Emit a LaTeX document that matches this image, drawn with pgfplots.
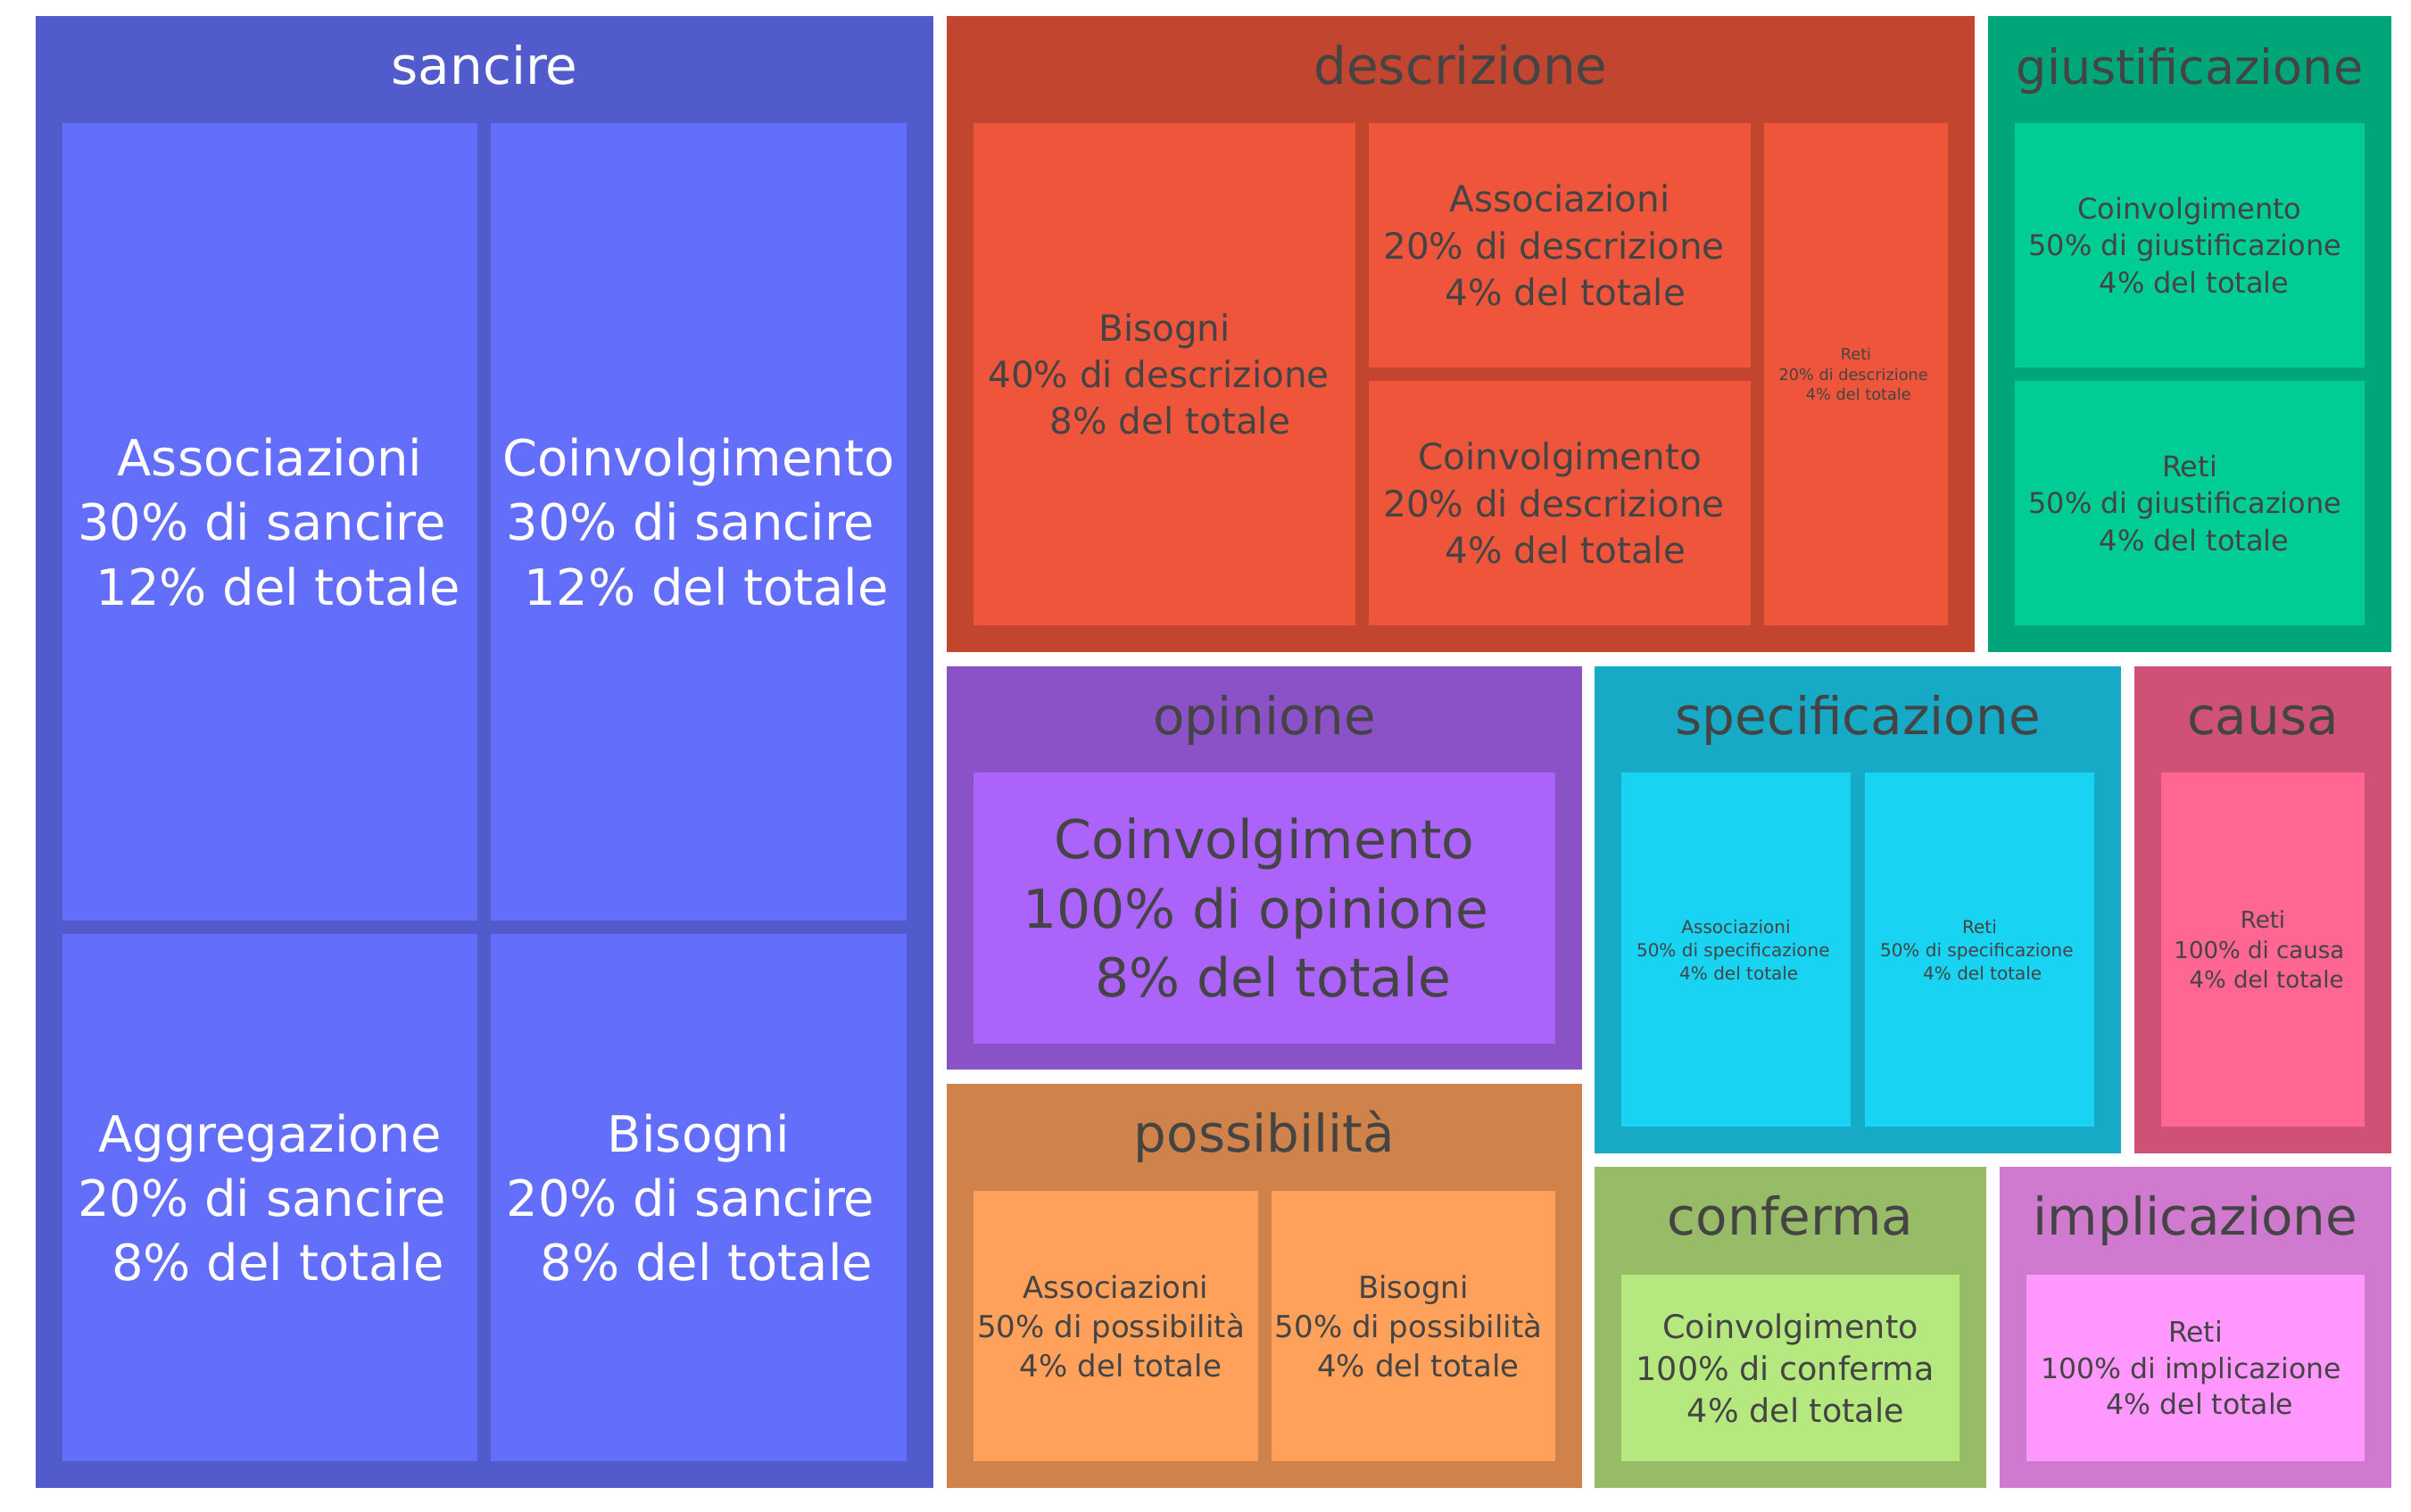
\documentclass[border=0pt]{standalone}
\usepackage{fontspec}
\setmainfont{DejaVu Sans}
\usepackage{pgfplots}
\pgfplotsset{compat=1.18}
\definecolor{sancireO}{HTML}{515BCC}\definecolor{sancireI}{HTML}{636EFA}
\definecolor{descO}{HTML}{C1452F}\definecolor{descI}{HTML}{EF553B}
\definecolor{giusO}{HTML}{00A57A}\definecolor{giusI}{HTML}{00CC96}
\definecolor{opinO}{HTML}{8B52C8}\definecolor{opinI}{HTML}{AB63FA}
\definecolor{possO}{HTML}{CF834A}\definecolor{possI}{HTML}{FFA15A}
\definecolor{specO}{HTML}{16AAC6}\definecolor{specI}{HTML}{19D3F3}
\definecolor{causaO}{HTML}{CF5276}\definecolor{causaI}{HTML}{FF6692}
\definecolor{confO}{HTML}{97BB67}\definecolor{confI}{HTML}{B6E880}
\definecolor{implO}{HTML}{CF7ACE}\definecolor{implI}{HTML}{FF97FF}
\definecolor{txt}{HTML}{444444}
% rectangle: x1, y1, x2, y2 (pixels, y from top), colour
\newcommand{\rect}[5]{\addplot[fill=#5, draw=none] coordinates {(#1,#2) (#3,#2) (#3,#4) (#1,#4)} -- cycle;}
\newcommand{\gap}{\hbox to 0.32em{}}
% font size in pixels (1px = 0.3pt)
\newcommand{\fpx}[1]{\fontsize{\fpeval{#1*0.3}pt}{\fpeval{#1*0.3*1.29}pt}\selectfont}
\begin{document}
\begin{tikzpicture}
\begin{axis}[width=810.6pt, height=508.5pt, scale only axis,
  xmin=0, xmax=2702, ymin=0, ymax=1695, y dir=reverse,
  hide axis, clip=false]
\rect{0}{0}{2702}{1695}{white}
% outer boxes
\rect{40}{18}{1046}{1668}{sancireO}
\rect{1061}{18}{2213}{731}{descO}
\rect{2228}{18}{2680}{731}{giusO}
\rect{1061}{747}{1773}{1199}{opinO}
\rect{1061}{1215}{1773}{1668}{possO}
\rect{1787}{747}{2377}{1293}{specO}
\rect{2392}{747}{2680}{1293}{causaO}
\rect{1787}{1308}{2226}{1668}{confO}
\rect{2241}{1308}{2680}{1668}{implO}
% inner boxes
\rect{70}{138}{535}{1032}{sancireI}
\rect{550}{138}{1016}{1032}{sancireI}
\rect{70}{1047}{535}{1638}{sancireI}
\rect{550}{1047}{1016}{1638}{sancireI}
\rect{1091}{138}{1519}{701}{descI}
\rect{1534}{138}{1962}{412}{descI}
\rect{1534}{427}{1962}{701}{descI}
\rect{1977}{138}{2183}{701}{descI}
\rect{2258}{138}{2650}{412}{giusI}
\rect{2258}{427}{2650}{701}{giusI}
\rect{1091}{866}{1743}{1170}{opinI}
\rect{1091}{1335}{1410}{1638}{possI}
\rect{1425}{1335}{1743}{1638}{possI}
\rect{1817}{866}{2074}{1263}{specI}
\rect{2090}{866}{2347}{1263}{specI}
\rect{2422}{866}{2650}{1263}{causaI}
\rect{1817}{1429}{2196}{1638}{confI}
\rect{2271}{1429}{2650}{1638}{implI}
% headers
\node[anchor=base, text=white, font=\fpx{58}] at (axis cs:543,94) {sancire};
\node[anchor=base, text=txt, font=\fpx{58}] at (axis cs:1637,94) {descrizione};
\node[anchor=base, text=txt, font=\fpx{54}] at (axis cs:2454,94) {giustificazione};
\node[anchor=base, text=txt, font=\fpx{58}] at (axis cs:1417,823) {opinione};
\node[anchor=base, text=txt, font=\fpx{58}] at (axis cs:2082,823) {specificazione};
\node[anchor=base, text=txt, font=\fpx{58}] at (axis cs:2536,823) {causa};
\node[anchor=base, text=txt, font=\fpx{58}] at (axis cs:1417,1291) {possibilità};
\node[anchor=base, text=txt, font=\fpx{58}] at (axis cs:2006.5,1384) {conferma};
\node[anchor=base, text=txt, font=\fpx{58}] at (axis cs:2460.5,1384) {implicazione};
% leaf labels
\node[align=center, text=white, font=\fpx{56}] at (axis cs:302.5,585) {Associazioni\\30\% di sancire\gap\\\gap 12\% del totale};
\node[align=center, text=white, font=\fpx{56}] at (axis cs:783,585) {Coinvolgimento\\30\% di sancire\gap\\\gap 12\% del totale};
\node[align=center, text=white, font=\fpx{56}] at (axis cs:302.5,1342.5) {Aggregazione\\20\% di sancire\gap\\\gap 8\% del totale};
\node[align=center, text=white, font=\fpx{56}] at (axis cs:783,1342.5) {Bisogni\\20\% di sancire\gap\\\gap 8\% del totale};
\node[align=center, text=txt, font=\fpx{40.5}] at (axis cs:1305,419.5) {Bisogni\\40\% di descrizione\gap\\\gap 8\% del totale};
\node[align=center, text=txt, font=\fpx{40.5}] at (axis cs:1748,275) {Associazioni\\20\% di descrizione\gap\\\gap 4\% del totale};
\node[align=center, text=txt, font=\fpx{40.5}] at (axis cs:1748,564) {Coinvolgimento\\20\% di descrizione\gap\\\gap 4\% del totale};
\node[align=center, text=txt, font=\fpx{17.7}] at (axis cs:2080,419.5) {Reti\\20\% di descrizione\gap\\\gap 4\% del totale};
\node[align=center, text=txt, font=\fpx{32}] at (axis cs:2454,275) {Coinvolgimento\\50\% di giustificazione\gap\\\gap 4\% del totale};
\node[align=center, text=txt, font=\fpx{32}] at (axis cs:2454,564) {Reti\\50\% di giustificazione\gap\\\gap 4\% del totale};
\node[align=center, text=txt, font=\fpx{60}] at (axis cs:1417,1018) {Coinvolgimento\\100\% di opinione\gap\\\gap 8\% del totale};
\node[align=center, text=txt, font=\fpx{34}] at (axis cs:1250.5,1486.5) {Associazioni\\50\% di possibilità\gap\\\gap 4\% del totale};
\node[align=center, text=txt, font=\fpx{34}] at (axis cs:1584,1486.5) {Bisogni\\50\% di possibilità\gap\\\gap 4\% del totale};
\node[align=center, text=txt, font=\fpx{20}] at (axis cs:1945.5,1065) {Associazioni\\50\% di specificazione\gap\\\gap 4\% del totale};
\node[align=center, text=txt, font=\fpx{20}] at (axis cs:2218.5,1065) {Reti\\50\% di specificazione\gap\\\gap 4\% del totale};
\node[align=center, text=txt, font=\fpx{26}] at (axis cs:2536,1064.5) {Reti\\100\% di causa\gap\\\gap 4\% del totale};
\node[align=center, text=txt, font=\fpx{36.5}] at (axis cs:2006.5,1533.5) {Coinvolgimento\\100\% di conferma\gap\\\gap 4\% del totale};
\node[align=center, text=txt, font=\fpx{31.5}] at (axis cs:2460.5,1533.5) {Reti\\100\% di implicazione\gap\\\gap 4\% del totale};
\end{axis}
\end{tikzpicture}
\end{document}
